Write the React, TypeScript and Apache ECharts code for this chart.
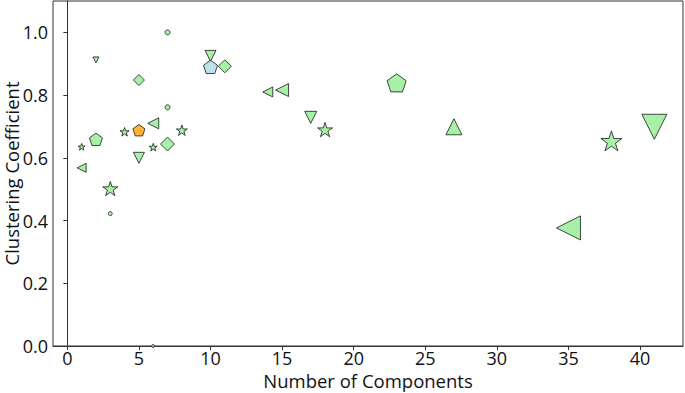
import React, { useEffect, useRef } from "react";
import * as echarts from "echarts";

// Data
const components = [1, 1, 2, 2, 3, 3, 4, 5, 5, 5, 6, 6, 6, 7, 7, 7, 8, 10, 10, 11, 14, 15, 17, 18, 23, 27, 35, 38, 41];
const clustering = [0.635, 0.568, 0.912, 0.659, 0.502, 0.422, 0.683, 0.848, 0.688, 0.6, 0.634, 0.71, 0.0, 1.0, 0.761, 0.644, 0.688, 0.925, 0.89, 0.892, 0.81, 0.816, 0.729, 0.69, 0.839, 0.699, 0.3765, 0.654, 0.699];
const markerKind = ["star", "left", "down", "pentagon", "star", "circle", "star", "diamond", "pentagon", "down", "star", "left", "circle", "circle", "circle", "diamond", "star", "down", "pentagon", "diamond", "left", "left", "down", "star", "pentagon", "up", "left", "star", "down"];
const weight = [7, 9, 6, 13, 15, 4, 9, 11, 12, 11, 8, 11, 3, 5, 5, 14, 11, 11, 14, 13, 10, 13, 12, 15, 19, 16, 24, 21, 25];
const group = ["g", "g", "g", "g", "g", "g", "g", "g", "o", "g", "g", "g", "g", "g", "g", "g", "g", "g", "b", "g", "g", "g", "g", "g", "g", "g", "g", "g", "g"];
const xTicks = [0, 5, 10, 15, 20, 25, 30, 35, 40];
const yTicks = [0, 0.2, 0.4, 0.6, 0.8, 1.0];

const groupColor: Record<string, string> = { g: "#90ee90", o: "#ff9f00", b: "#add8e6" };

function polyPath(points: number[][]): string {
  return "path://" + points.map((p, i) => (i === 0 ? "M" : "L") + p[0].toFixed(4) + "," + p[1].toFixed(4)).join(" ") + " Z";
}
function regular(n: number, r: number, innerR?: number): number[][] {
  const pts: number[][] = [];
  const steps = innerR ? n * 2 : n;
  for (let k = 0; k < steps; k++) {
    const ang = (-90 + (360 / steps) * k) * Math.PI / 180;
    const rad = innerR && k % 2 === 1 ? innerR : r;
    pts.push([rad * Math.cos(ang), rad * Math.sin(ang)]);
  }
  return pts;
}
const symbols: Record<string, string> = {
  star: polyPath(regular(5, 1, 0.381966)),
  pentagon: polyPath(regular(5, 1)),
  up: polyPath([[0, -1], [1, 1], [-1, 1]]),
  down: polyPath([[-1, -1], [1, -1], [0, 1]]),
  left: polyPath([[-1, 0], [1, -1], [1, 1]]),
  diamond: "diamond",
  circle: "circle",
};

export default function App() {
  const ref = useRef<HTMLDivElement>(null);
  useEffect(() => {
    if (!ref.current) return;
    const chart = echarts.init(ref.current, null, { renderer: "svg" });
    const data = components.map((x, i) => ({
      value: [x, clustering[i]],
      symbol: symbols[markerKind[i]],
      symbolSize: weight[i],
      symbolKeepAspect: true,
      itemStyle: { color: groupColor[group[i]], borderColor: "#1a1a1a", borderWidth: 1 },
    }));
    const font = "'Open Sans', 'Noto Sans', sans-serif";
    chart.setOption({
      animation: false,
      grid: {
        left: 53, right: 2, top: 1, bottom: 47,
        containLabel: false, outerBoundsMode: "none",
        show: true, borderColor: "#333", borderWidth: 1, backgroundColor: "transparent",
      },
      xAxis: {
        type: "value",
        min: -1,
        max: 43,
        name: "Number of Components",
        nameLocation: "middle",
        nameGap: 25,
        nameMoveOverlap: false,
        nameTextStyle: { fontSize: 18.5, color: "#111", fontFamily: font },
        axisLine: { show: true, lineStyle: { color: "#333", width: 1 } },
        axisTick: { show: true, length: 4, customValues: xTicks, lineStyle: { color: "#333" } },
        axisLabel: { customValues: xTicks, fontSize: 18, color: "#111", fontFamily: font, margin: 3 },
        splitLine: { show: false },
      },
      yAxis: {
        type: "value",
        min: 0,
        max: 1.1,
        name: "Clustering Coefficient",
        nameLocation: "middle",
        nameGap: 32,
        nameMoveOverlap: false,
        nameTextStyle: { fontSize: 18.5, color: "#111", fontFamily: font },
        axisLine: { show: true, lineStyle: { color: "#333", width: 1 } },
        axisTick: { show: true, length: 4, customValues: yTicks, lineStyle: { color: "#333" } },
        axisLabel: { customValues: yTicks, fontSize: 18, color: "#111", fontFamily: font, margin: 5, formatter: (v: number) => v.toFixed(1) },
        splitLine: { show: false },
      },
      series: [{ type: "scatter", data, clip: true }],
    });
    return () => chart.dispose();
  }, []);
  return <div ref={ref} style={{ width: 685, height: 393, position: "absolute", left: 0, top: 0 }} />;
}
